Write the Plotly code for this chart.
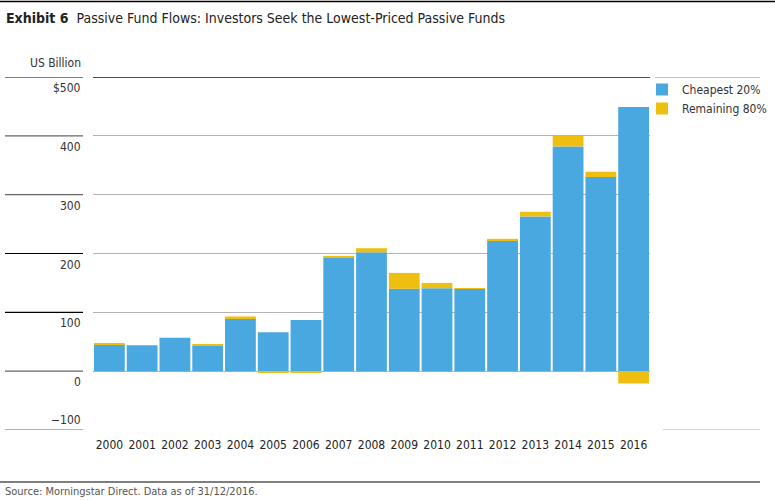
import plotly.graph_objects as go

years = [str(y) for y in range(2000, 2017)]
cheapest = [46, 44, 57, 43, 90, 66, 87, 193, 202, 140, 141, 140, 222, 263, 382, 330, 449]
remaining = [1, 0, 0, 2, 3, -2, -2, 3, 7, 27, 9, 1, 3, 8, 18, 9, -21]
ytick_vals = [500, 400, 300, 200, 100, 0, -100]
ytick_text = ["$500", "400", "300", "200", "100", "0", "\u2212100"]

BLUE = "#4aa8e0"
YELLOW = "#eebf10"
FONT = "DejaVu Sans Condensed, Roboto, sans-serif"

fig = go.Figure()
fig.add_trace(go.Bar(x=years, y=cheapest, name="Cheapest 20%", marker=dict(color=BLUE, line=dict(width=0))))
fig.add_trace(go.Bar(x=years, y=remaining, name="Remaining 80%", marker=dict(color=YELLOW, line=dict(width=0))))

L, R, T, B = 93, 125, 77, 70
W, H = 775, 500
pw, ph = W - L - R, H - T - B

def px_x(p):
    return (p - L) / pw

def px_y(p):
    return (H - B - p) / ph

shapes = []
annotations = []
for v, t in zip(ytick_vals, ytick_text):
    col = "#000000" if v in (500, 200, 100) else "#666666"
    shapes.append(dict(type="line", xref="paper", yref="y", x0=px_x(5), x1=px_x(83), y0=v, y1=v,
                       line=dict(color=col, width=1.2)))
    annotations.append(dict(xref="paper", yref="y", x=px_x(83), y=v, text=t, showarrow=False,
                            xanchor="right", yanchor="bottom" if v == -100 else "top",
                            yshift=1 if v == -100 else -2,
                            font=dict(family=FONT, size=12, color="#333333")))
shapes.append(dict(type="line", xref="paper", yref="y", x0=0, x1=1, y0=500, y1=500,
                   line=dict(color="#111111", width=1.3)))
shapes.append(dict(type="line", xref="paper", yref="y", x0=px_x(655), x1=px_x(760), y0=500, y1=500,
                   line=dict(color="#888888", width=1)))
shapes.append(dict(type="line", xref="paper", yref="y", x0=px_x(663), x1=px_x(760), y0=-100, y1=-100,
                   line=dict(color="#aaaaaa", width=1)))
shapes.append(dict(type="line", xref="paper", yref="paper", x0=px_x(0), x1=px_x(775), y0=px_y(1.5), y1=px_y(1.5),
                   line=dict(color="#000000", width=1.5)))
shapes.append(dict(type="line", xref="paper", yref="paper", x0=px_x(0), x1=px_x(760), y0=px_y(482), y1=px_y(482),
                   line=dict(color="#000000", width=1.2)))

annotations.append(dict(xref="paper", yref="paper", x=px_x(83), y=px_y(63), text="US Billion", showarrow=False,
                        xanchor="right", yanchor="middle", font=dict(family=FONT, size=12, color="#333333")))
annotations.append(dict(xref="paper", yref="paper", x=px_x(4), y=px_y(18),
                        text="<b>Exhibit 6</b>  Passive Fund Flows: Investors Seek the Lowest-Priced Passive Funds",
                        showarrow=False, xanchor="left", yanchor="middle",
                        font=dict(family=FONT, size=14, color="#222222")))
annotations.append(dict(xref="paper", yref="paper", x=px_x(3), y=px_y(491),
                        text="Source: Morningstar Direct. Data as of 31/12/2016.",
                        showarrow=False, xanchor="left", yanchor="middle",
                        font=dict(family=FONT, size=11, color="#555555")))

fig.update_layout(
    width=W, height=H,
    margin=dict(l=L, r=R, t=T, b=B, autoexpand=False),
    barmode="relative",
    bargap=0.06,
    plot_bgcolor="white", paper_bgcolor="white",
    font=dict(family=FONT, size=12, color="#333333"),
    shapes=shapes,
    annotations=annotations,
    legend=dict(x=px_x(642), y=px_y(75), xanchor="left", yanchor="top", xref="paper", yref="paper",
                font=dict(family=FONT, size=12, color="#333333"), itemwidth=30,
                tracegroupgap=0, bgcolor="rgba(0,0,0,0)"),
    showlegend=True,
)
fig.update_xaxes(showgrid=False, showline=False, ticks="", ticklabelstandoff=6,
                 tickfont=dict(family=FONT, size=12, color="#222222"))
fig.update_yaxes(range=[-100, 500], tickvals=ytick_vals, showticklabels=False, showgrid=True,
                 gridcolor="#b4b4b4", gridwidth=1, zeroline=False, showline=False)

fig.write_html("out.html", config={"displayModeBar": False},
               post_script="document.body.style.margin='0px';")
